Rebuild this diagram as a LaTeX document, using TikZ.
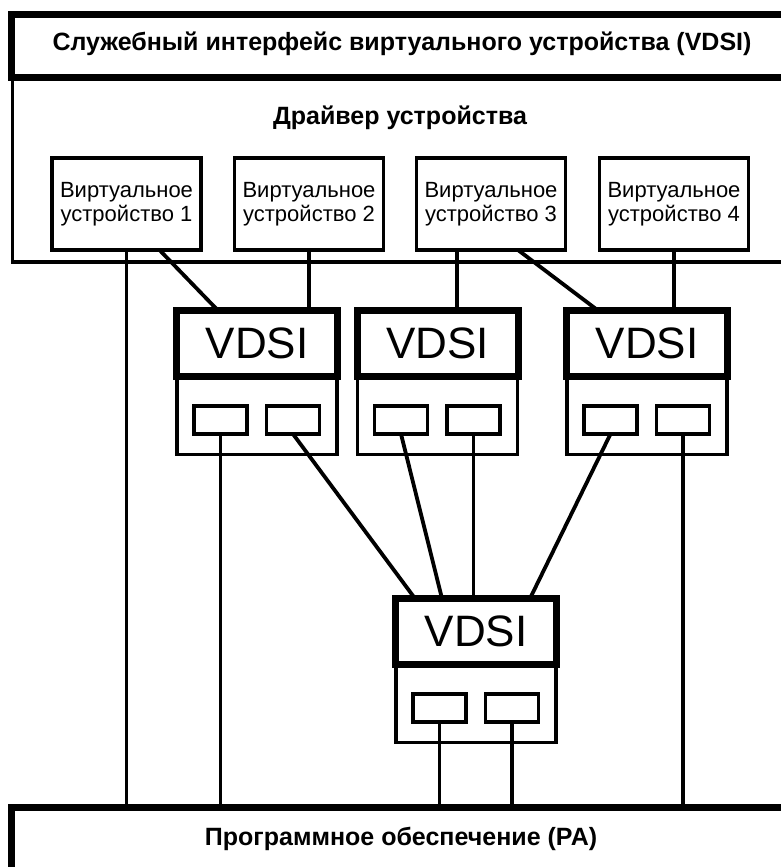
\documentclass[tikz,border=0pt]{standalone}
\usepackage{fontspec}
\setmainfont{Liberation Sans}
\usetikzlibrary{positioning,calc}
\newcommand{\vdsi}[3]{
	\node[vdsi_body] (b#1) at ($(0,72)+(#2,#3)$) {};
	\node[vdsi_head] (h#1) at (#2,#3) {VDSI};
	
	\node[port] (p#1_l) at ($(-36.5,76.5)+(#2,#3)$) {};
	\node[port] (p#1_r) at ($(36,76.5)+(#2,#3)$) {};
}

\begin{document}
\begin{tikzpicture}[x=1pt,y=-1pt,line join=miter]
		\tikzstyle{wire}=[line width=3.8pt];
		\tikzstyle{big_text}=[font=\bfseries\fontsize{25}{28}\selectfont, inner sep=0, anchor=base];
		\tikzstyle{title_box}=[draw, line width=7pt, fill=white, minimum width=782pt, minimum height=63pt, inner sep=0, outer sep=0];
		\tikzstyle{drv_box}=[draw, line width=3.5pt, minimum width=787.5pt, minimum height=184.5pt, inner sep=0, outer sep=0];
		\tikzstyle{pa_box}=[draw, line width=7pt, minimum width=789pt, minimum height=93pt, inner sep=0, outer sep=0];
		\tikzstyle{dev_box}=[draw, line width=3.8pt, fill=white, minimum width=149pt, minimum height=92pt, inner sep=0, outer sep=0, align=center, font=\fontsize{22}{23.5}\selectfont];
		\tikzstyle{vdsi_head}=[draw, line width=7pt, fill=white, minimum width=161pt, minimum height=66pt, inner sep=0, outer sep=0, font=\fontsize{44}{44}\selectfont];
		\tikzstyle{vdsi_body}=[draw, line width=3.5pt, fill=white, minimum width=160pt, minimum height=77.5pt, inner sep=0, outer sep=0];
		\tikzstyle{port}=[draw, line width=3.5pt, minimum width=53pt, minimum height=28pt, inner sep=0, outer sep=0];
		
		\useasboundingbox (0,0) rectangle (781,867);
		\clip (0,0) rectangle (781,867);
		
		\node[drv_box] (drv) at (406.25,169.75) {};
		\node[title_box] (svc) at (402,46) {};
		\node[big_text] (svctxt) at (402,51) {Служебный интерфейс виртуального устройства (VDSI)};
		\node[big_text] (drvtxt) at (400,124) {Драйвер устройства};
		\node[pa_box] (pa) at (406,854) {};
		\node[big_text] (patxt) at (401,845) {Программное обеспечение (PA)};
		
		\node[dev_box] (vd1) at (126.5,204) {Виртуальное\\устройство 1};
		\node[dev_box] (vd2) at (309,204) {Виртуальное\\устройство 2};
		\node[dev_box] (vd3) at (491,204) {Виртуальное\\устройство 3};
		\node[dev_box] (vd4) at (674,204) {Виртуальное\\устройство 4};
		
		\vdsi{1}{257}{343.5}
		\vdsi{2}{437.5}{343.5}
		\vdsi{3}{647}{343.5}
		\vdsi{4}{476}{631.5}
		
		\draw[wire] (vd1.south) -- (vd1.south |- pa.north);
		\draw[wire] ($(vd1.south)+(33,0)$) -- ($(h1.north)+(-39,0)$);
		\draw[wire] (vd2.south) -- (vd2.south |- h1.north);
		\draw[wire] ($(vd3.south)+(-34,0)$) -- ($(h2.north)+(19.5,0)$);
		\draw[wire] ($(vd3.south)+(27,0)$) -- ($(h3.north)+(-49,0)$);
		\draw[wire] (vd4.south) -- (vd4.south |- h3.north);
		
		\draw[wire] (p1_l.south) -- (p1_l.south |- pa.north);
		\draw[wire] (p1_r.south) -- ($(h4.north)+(-61,0)$);
		\draw[wire] (p2_l.south) -- ($(h4.north)+(-34,0)$);
		\draw[wire] (p2_r.south) -- (p2_r.south |- h4.north);
		\draw[wire] (p3_l.south) -- ($(h4.north)+(54,0)$);
		\draw[wire] (p3_r.south) -- (p3_r.south |- pa.north);
		\draw[wire] (p4_l.south) -- (p4_l.south |- pa.north);
		\draw[wire] (p4_r.south) -- (p4_r.south |- pa.north);
	\end{tikzpicture}
\end{document}
